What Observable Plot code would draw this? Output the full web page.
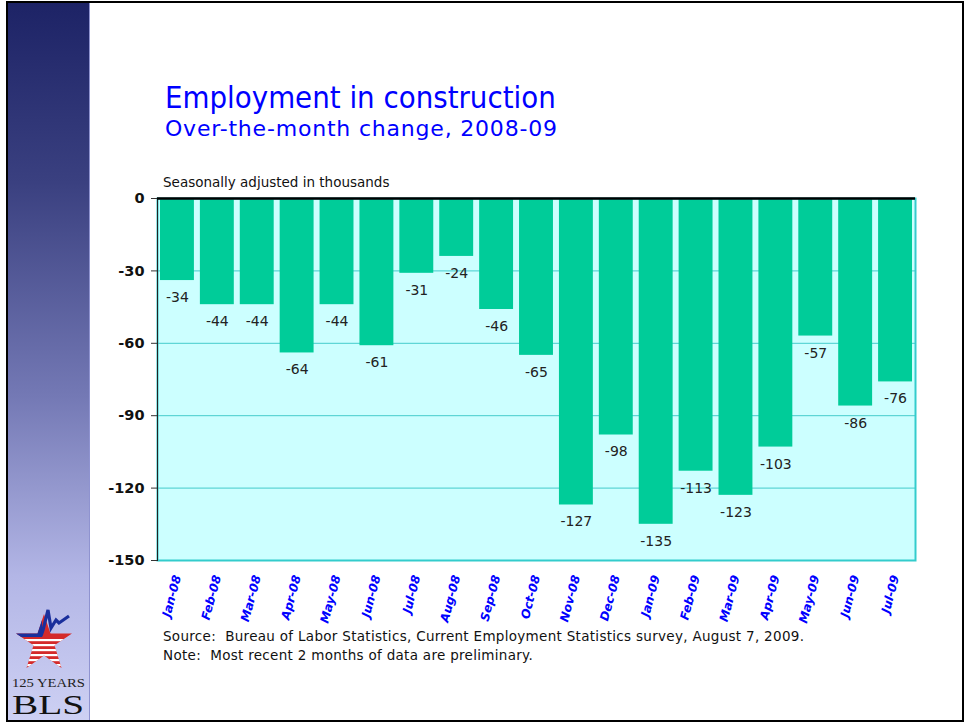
<!DOCTYPE html>
<html>
<head>
<meta charset="utf-8">
<script src="https://cdn.jsdelivr.net/npm/d3@7"></script>
<script src="https://cdn.jsdelivr.net/npm/@observablehq/plot@0.6"></script>
<style>
  html, body { margin: 0; padding: 0; background: #fff; }
  #page { position: relative; width: 967px; height: 723px; overflow: hidden; background: #fff; }
  #border { position: absolute; left: 6px; top: 1px; width: 958px; height: 721px; box-sizing: border-box; border: 2px solid #000; }
  #sidebar { position: absolute; left: 8px; top: 3px; width: 81px; height: 717px;
    background: linear-gradient(to bottom, #1d2366 0%, #3a4080 25%, #7479b5 55%, #b3b6e6 80%, #cdd0f3 100%);
    border-right: 1px solid #8f93d0; }
  #logo { position: absolute; left: 8px; top: 588px; }
  .txt { position: absolute; white-space: nowrap; }
  #title { left: 165px; top: 82px; font-family: "DejaVu Sans Condensed", "DejaVu Sans", sans-serif; font-size: 30.8px; line-height: 30px; color: #0000ff; }
  #subtitle { left: 165px; top: 118px; font-family: "DejaVu Sans", sans-serif; font-size: 22px; line-height: 22px; color: #0000ff; letter-spacing: 0.8px; }
  #unit { left: 163px; top: 175.5px; font-family: "DejaVu Sans", sans-serif; font-size: 13.5px; line-height: 13.5px; color: #111; }
  #note { left: 163px; top: 627px; font-family: "DejaVu Sans", sans-serif; font-size: 13.5px; line-height: 19px; color: #111; letter-spacing: 0.3px; }
  #chart { position: absolute; left: 90px; top: 165px; }
</style>
</head>
<body>
<div id="page">
  <div id="sidebar"></div>
  <svg id="logo" width="81" height="133" viewBox="0 0 81 133">
    <defs>
      <clipPath id="starclip">
        <polygon points="36,26 42.5,45.4 64,45.4 46.5,57.2 53.5,80 36,67.5 18.5,80 25.5,57.2 8,45.4 29.5,45.4"/>
      </clipPath>
    </defs>
    <g clip-path="url(#starclip)">
      <rect x="0" y="20" width="81" height="70" fill="#d42a2a"/>
      <rect x="0" y="51" width="81" height="2.2" fill="#fff"/>
      <rect x="0" y="56" width="81" height="2.2" fill="#fff"/>
      <rect x="0" y="61" width="81" height="2.2" fill="#fff"/>
      <rect x="0" y="66" width="81" height="2.2" fill="#fff"/>
      <rect x="0" y="71" width="81" height="2.2" fill="#fff"/>
      <rect x="0" y="76" width="81" height="2.2" fill="#fff"/>
      <polygon points="0,20 34,20 34,49 0,49" fill="#1a2f9c"/>
    </g>
    <polyline points="33,48 35,42 40,22 43,40 48,32 51,35 61,28" fill="none" stroke="#1a2f9c" stroke-width="3.2" stroke-linejoin="miter"/>
    <text x="4" y="99" textLength="73" lengthAdjust="spacingAndGlyphs" font-family="Liberation Serif, DejaVu Serif, serif" font-size="12" fill="#222">125 YEARS</text>
    <text x="4" y="126" textLength="72" lengthAdjust="spacingAndGlyphs" font-family="Liberation Serif, DejaVu Serif, serif" font-size="27" fill="#111">BLS</text>
  </svg>
  <div id="border"></div>
  <div id="title" class="txt">Employment in construction</div>
  <div id="subtitle" class="txt">Over-the-month change, 2008-09</div>
  <div id="unit" class="txt">Seasonally adjusted in thousands</div>
  <div id="chart"></div>
  <div id="note" class="txt">Source:&nbsp; Bureau of Labor Statistics, Current Employment Statistics survey, August 7, 2009.<br>Note:&nbsp; Most recent 2 months of data are preliminary.</div>
</div>
<script>
const months = ["Jan-08","Feb-08","Mar-08","Apr-08","May-08","Jun-08","Jul-08","Aug-08","Sep-08","Oct-08","Nov-08","Dec-08","Jan-09","Feb-09","Mar-09","Apr-09","May-09","Jun-09","Jul-09"];
const changes = [-34,-44,-44,-64,-44,-61,-31,-24,-46,-65,-127,-98,-135,-113,-123,-103,-57,-86,-76];
const yTicks = [0,-30,-60,-90,-120,-150];
const gridTicks = [-30,-60,-90,-120];

const data = months.map((m, i) => ({month: m, value: changes[i]}));

const chart = Plot.plot({
  width: 870,
  height: 470,
  marginLeft: 67,
  marginTop: 33,
  marginRight: 45,
  marginBottom: 75,
  style: {background: "transparent", overflow: "visible"},
  x: {domain: months, paddingInner: 0.15, paddingOuter: 0.075, round: false, label: null},
  y: {domain: [-150, 0], label: null},
  marks: [
    Plot.frame({fill: "#ccffff"}),
    Plot.gridY(gridTicks, {stroke: "#44cccc", strokeOpacity: 1, strokeWidth: 1}),
    Plot.barY(data, {x: "month", y: "value", fill: "#00cc99"}),
    Plot.frame({stroke: "#33cccc", strokeWidth: 2}),
    Plot.frame({anchor: "left", stroke: "#222", strokeWidth: 1}),
    Plot.ruleY([0], {stroke: "#000", strokeWidth: 2.5}),
    Plot.text(data, {x: "month", y: "value", text: d => String(d.value), dy: 17,
      fill: "#222", fontSize: 14, fontFamily: "DejaVu Sans"}),
    Plot.axisY(yTicks, {tickSize: 6, tickPadding: 7, tickFormat: d => String(d), fontSize: 14.5, fontWeight: "bold",
      fontFamily: "DejaVu Sans", fill: "#111", stroke: "#333", label: null}),
    Plot.axisX({tickRotate: -75, tickSize: 0, tickPadding: 15, fontSize: 12, fontWeight: "bold",
      fontStyle: "italic", fontFamily: "DejaVu Sans", fill: "#0000ff", label: null})
  ]
});
document.getElementById("chart").appendChild(chart);
</script>
</body>
</html>
